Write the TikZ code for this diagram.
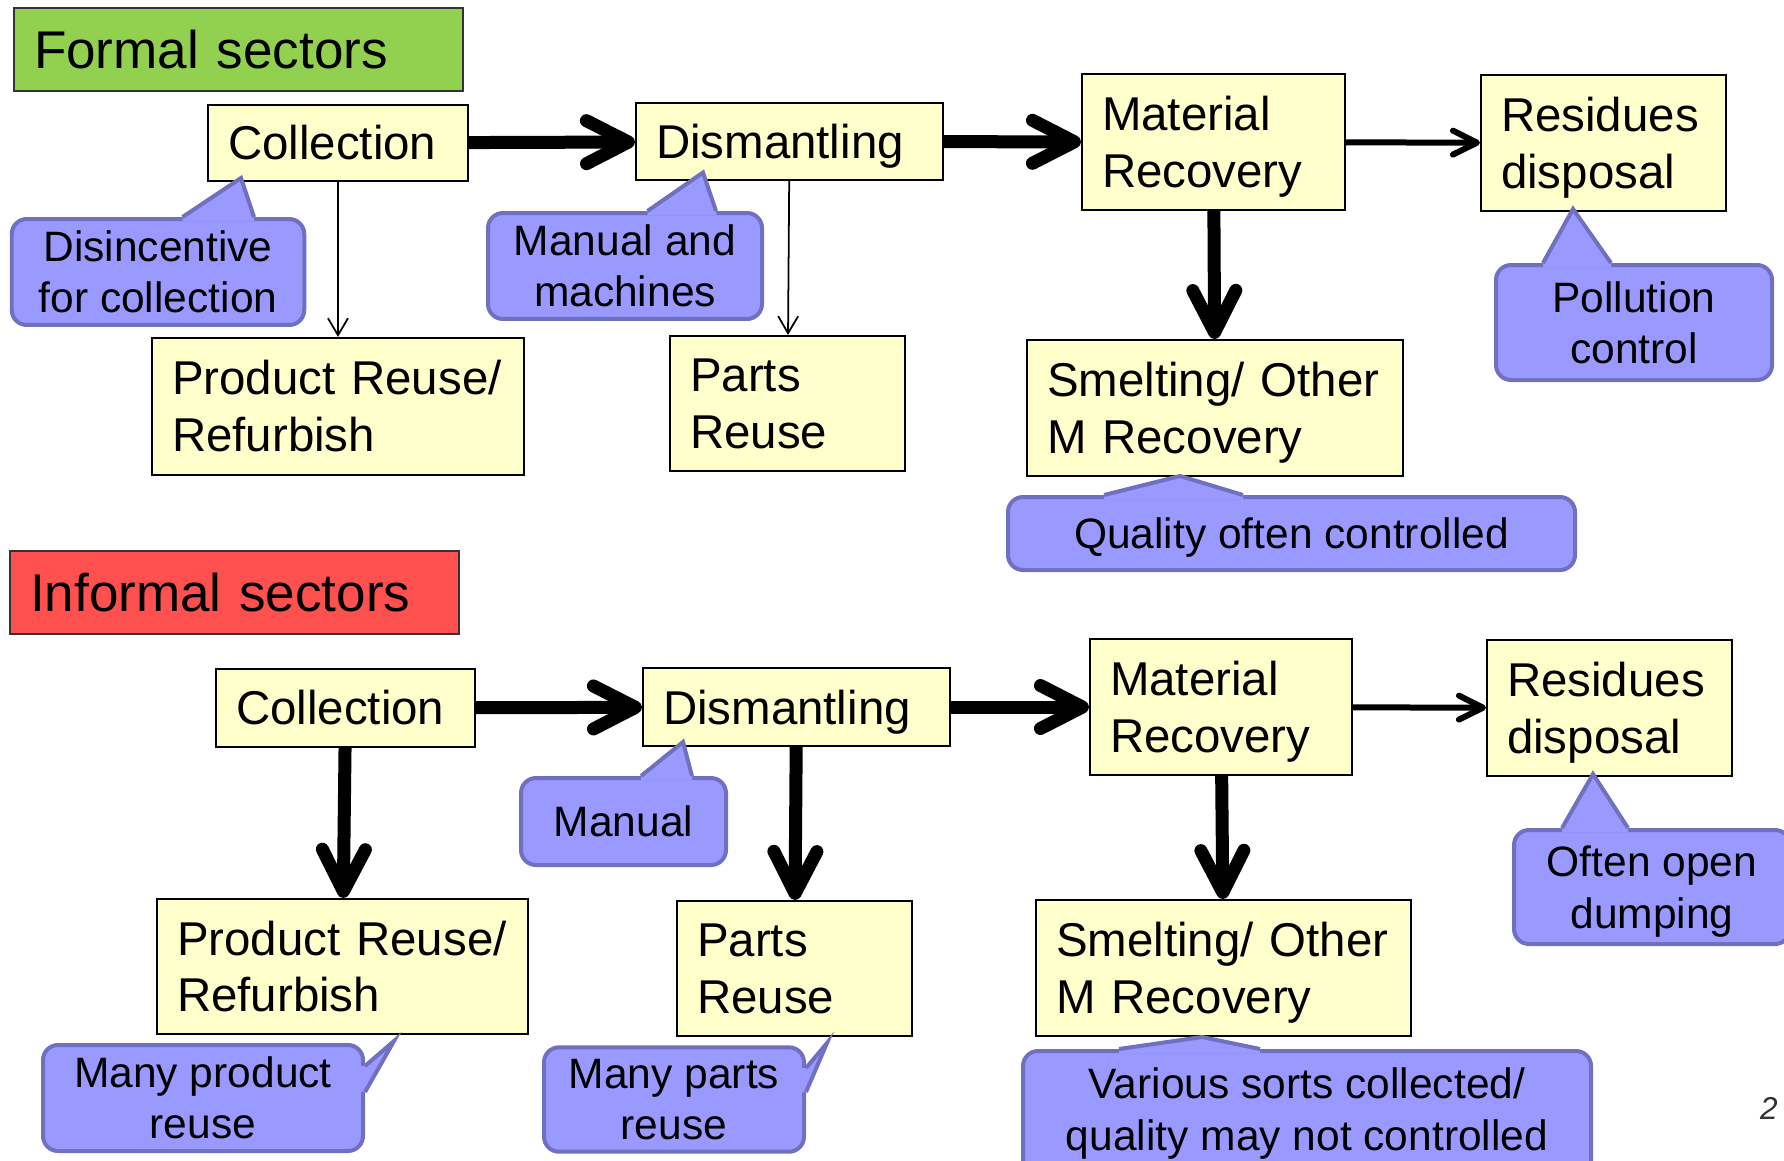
\documentclass[tikz,border=0pt]{standalone}
\usepackage{fontspec}
\setmainfont{Liberation Sans}
\usetikzlibrary{calc,arrows.meta}
\definecolor{stagefill}{HTML}{FFFFCC}
\definecolor{notefill}{HTML}{9999FF}
\definecolor{noteedge}{HTML}{7070C0}
\definecolor{formalfill}{HTML}{92D050}
\definecolor{informalfill}{HTML}{FF5050}
\newcommand\stagefont{\fontsize{13.5}{16.2}\selectfont}
\newcommand\calloutfont{\fontsize{12.1}{14.6}\selectfont}
\newcommand\bannerfont{\fontsize{15.1}{18}\selectfont}
% last line without its descender
\def\nodesc#1{\raisebox{0pt}[\height][0pt]{#1}}
% base a, tip, base b, inward shift
\def\pointer(#1)(#2)(#3)(#4){%
  \fill[notefill] ($(#1)+(#4)$) -- (#1) -- (#2) -- (#3) -- ($(#3)+(#4)$) -- cycle;
  \draw[noteedge, line width=0.04cm] (#1) -- (#2) -- (#3);}
\tikzset{
  sector/.style={draw=black!80, line width=0.6pt, inner xsep=0.2cm, align=left, font=\bannerfont},
  stage/.style 2 args={draw, fill=stagefill, line width=0.6pt, inner xsep=0.2cm, text width=#1, minimum height=#2, align=left, font=\stagefont},
  note/.style 2 args={draw=noteedge, fill=notefill, line width=0.04cm, rounded corners=0.15cm, minimum width=#1, minimum height=#2, align=center, font=\calloutfont},
  flow/.style={line width=0.13cm, -{Straight Barb[round, length=0.42cm, width=0.43cm]}},
  pass/.style={line width=0.06cm, -{Straight Barb[round, length=0.24cm, width=0.24cm]}},
  feed/.style={line width=0.5pt, -{Straight Barb[length=0.17cm, width=0.2cm]}}
}
\begin{document}
\begin{tikzpicture}
			\useasboundingbox (0,0) rectangle (17.84,-11.6);
			%%%%% FORMAL %%%%%
			
			\node[sector, fill=formalfill, text width=4.09cm, minimum height=0.83cm] (formal) at (2.385,-0.495) {Formal sectors};
			
			\node[stage={2.20cm}{0.76cm}] (fcol) at (3.38,-1.43) {Collection};
			\node[stage={2.67cm}{0.77cm}] (fdis) at (7.895,-1.415) {\nodesc{Dismantling}};
			\node[stage={2.23cm}{1.36cm}] (fmat) at (12.135,-1.42) {Material\\\nodesc{Recovery}};
			\node[stage={2.05cm}{1.36cm}] (fres) at (16.035,-1.43) {Residues\\\nodesc{disposal}};
			\node[stage={3.36cm}{1.36cm}] (fsme) at (12.15,-4.08) {Smelting/ Other\\\nodesc{M Recovery}};
			\node[stage={3.32cm}{1.37cm}] (fpro) at (3.38,-4.065) {Product Reuse/\\Refurbish};
			\node[stage={1.95cm}{1.35cm}] (fpar) at (7.875,-4.035) {Parts\\Reuse};
			
			\node[note={2.925cm}{1.015cm}] (fdisinc) at (1.58,-2.72) {Disincentive\\for collection};
			\pointer(1.825,0 |- fdisinc.north)(2.41,-1.78)(2.54,0 |- fdisinc.north)(0,-0.04);
			\node[note={2.74cm}{1.02cm}] (fmanual) at (6.25,-2.66) {Manual and\\machines};
			\pointer(6.475,0 |- fmanual.north)(7.03,-1.725)(7.16,0 |- fmanual.north)(0,-0.04);
			\node[note={5.67cm}{0.73cm}] (fquality) at (12.915,-5.335) {\nodesc{Quality often controlled}};
			\pointer(11.04,0 |- fquality.north)(11.80,-4.76)(12.43,0 |- fquality.north)(0,-0.04);
			\node[note={2.76cm}{1.15cm}] (fpollution) at (16.34,-3.225) {Pollution\\control};
			\pointer(15.43,0 |- fpollution.north)(15.73,-2.09)(16.11,0 |- fpollution.north)(0,-0.04);
			
			\draw[flow] (fcol) -- (fdis);
			\draw[flow] (fdis) -- (fmat);
			\draw[pass] (fmat) -- (fres);
			\draw[flow] (fmat) -- (fsme);
			\draw[feed] (fcol) -- (fpro);
			\draw[feed] (fdis) -- (fpar);
			
			%%%%% INFORMAL %%%%%
			
			\node[sector, fill=informalfill, text width=4.09cm, minimum height=0.83cm] (informal) at (2.345,-5.925) {Informal sectors};
			
			\node[stage={2.19cm}{0.78cm}] (icol) at (3.455,-7.08) {Collection};
			\node[stage={2.67cm}{0.78cm}] (idis) at (7.965,-7.07) {\nodesc{Dismantling}};
			\node[stage={2.22cm}{1.36cm}] (imat) at (12.21,-7.07) {Material\\\nodesc{Recovery}};
			\node[stage={2.05cm}{1.36cm}] (ires) at (16.095,-7.08) {Residues\\\nodesc{disposal}};
			\node[stage={3.35cm}{1.36cm}] (isme) at (12.235,-9.68) {Smelting/ Other\\\nodesc{M Recovery}};
			\node[stage={3.31cm}{1.35cm}] (ipro) at (3.425,-9.665) {Product Reuse/\\Refurbish};
			\node[stage={1.95cm}{1.35cm}] (ipar) at (7.945,-9.685) {Parts\\Reuse};
			
			\node[note={2.05cm}{0.87cm}] (imanual) at (6.235,-8.215) {Manual};
			\pointer(6.41,0 |- imanual.north)(6.83,-7.42)(6.92,0 |- imanual.north)(0,-0.04);
			\node[note={3.20cm}{1.00cm}] (iproduct) at (2.03,-10.98) {Many product\\reuse};
			\pointer(iproduct.east |- 0,-10.66)(3.94,-10.41)(iproduct.east |- 0,-10.92)(-0.04,0);
			\node[note={2.60cm}{0.99cm}] (iparts) at (6.74,-10.995) {Many parts\\reuse};
			\pointer(iparts.east |- 0,-10.68)(8.27,-10.43)(iparts.east |- 0,-10.92)(-0.04,0);
			\node[note={5.68cm}{1.25cm}] (ivarious) at (13.07,-11.135) {Various sorts collected/\\quality may not controlled};
			\pointer(11.19,0 |- ivarious.north)(12.02,-10.37)(12.60,0 |- ivarious.north)(0,-0.04);
			\node[note={2.76cm}{1.14cm}] (idumping) at (16.52,-8.87) {Often open\\\nodesc{dumping}};
			\pointer(15.62,0 |- idumping.north)(15.93,-7.74)(16.28,0 |- idumping.north)(0,-0.04);
			
			\draw[flow] (icol) -- (idis);
			\draw[flow] (idis) -- (imat);
			\draw[pass] (imat) -- (ires);
			\draw[flow] (imat) -- (isme);
			\draw[flow] (icol) -- (ipro);
			\draw[flow] (idis) -- (ipar);
			
			\node[font=\fontsize{9}{11}\selectfont\itshape, text=black!80] (page) at (17.69,-11.085) {2};
			
			%%%%% END %%%%%
\end{tikzpicture}
\end{document}
